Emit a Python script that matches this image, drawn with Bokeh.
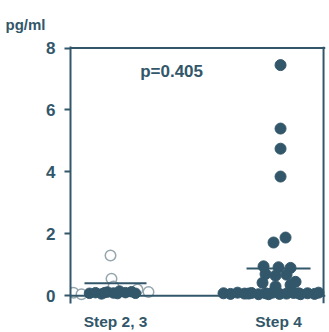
from bokeh.plotting import figure
from bokeh.models import Range1d, FixedTicker, Span, Label
from bokeh.embed import file_html
from bokeh.resources import INLINE

# ---- data ----
categories = ["Step 2, 3", "Step 4"]
cat_pos = [1, 2]
y_ticks = [0, 2, 4, 6, 8]
p_text = "p=0.405"
unit_text = "pg/ml"

# Step 2,3 filled points: values and horizontal offsets (in px from group centre)
g1_filled_val = [0.08, 0.1, 0.06, 0.12, 0.09, 0.15, 0.1, 0.13, 0.08, 0.1, 0.07]
g1_filled_off = [-26, -20, -14, -8, -2, 4, 10, 16, 20, -11, 2]
# Step 2,3 open points
g1_open_val = [1.3, 0.55, 0.1, 0.05, 0.12, 0.2, 0.3]
g1_open_off = [-5, -4, -42, -34, 33, 22, -2]
# Step 4 filled points
g2_val = [7.45, 5.4, 4.75, 3.85, 1.88, 1.72,
          0.95, 0.92, 0.9, 0.7, 0.65, 0.68, 0.42, 0.35, 0.3, 0.45,
          0.08, 0.06, 0.1, 0.07, 0.09, 0.05, 0.08, 0.1, 0.06, 0.07,
          0.09, 0.05, 0.08, 0.06, 0.1, 0.07, 0.05, 0.08]
g2_off = [2, 2, 2, 2, 7, -5,
          -15, 0, 12, -13, -3, 8, -16, 12, -3, 17,
          -55, -48, -41, -34, -27, -20, -13, -6, 1, 8,
          15, 22, 29, 36, 40, -30, -10, 20]
means = [0.4, 0.88]
mean_halfwidth_px = [31, 32]

color = "#33576a"
px = 1.0 / 163.0  # data units per pixel (x)
x_start, x_end = 0.724, 2.288
y_start, y_end = -0.25, 8.05

p = figure(width=329, height=332, output_backend="svg", toolbar_location=None,
           x_range=Range1d(x_start, x_end), y_range=Range1d(y_start, y_end),
           min_border_left=70, min_border_right=4, min_border_top=44,
           min_border_bottom=28)
p.background_fill_color = "white"
p.border_fill_color = "white"
p.outline_line_color = None
p.xgrid.visible = False
p.ygrid.visible = False

# marks
p.scatter([cat_pos[0] + o * px for o in g1_open_off], g1_open_val, size=10.5,
          fill_color="white", line_color="#95a6af", line_width=1.5)
p.scatter([cat_pos[0] + o * px for o in g1_filled_off], g1_filled_val, size=10.5,
          fill_color=color, line_color=color)
p.scatter([cat_pos[1] + o * px for o in g2_off], g2_val, size=11,
          fill_color=color, line_color=color)
p.segment(x0=[c - h * px for c, h in zip(cat_pos, mean_halfwidth_px)],
          x1=[c + h * px for c, h in zip(cat_pos, mean_halfwidth_px)],
          y0=means, y1=means, line_color=color, line_width=2)

# frame lines
p.add_layout(Span(location=0, dimension="width", line_color=color, line_width=2))
p.add_layout(Span(location=y_ticks[-1], dimension="width", line_color=color, line_width=2))
p.add_layout(Span(location=2.276, dimension="height", line_color=color, line_width=2))

p.add_layout(Label(x=1.344, y=7.23, text=p_text, text_align="center",
                   text_baseline="middle", text_font="Liberation Sans",
                   text_font_style="bold", text_font_size="17px",
                   text_color=color))

# y axis
p.yaxis.ticker = FixedTicker(ticks=y_ticks)
p.yaxis.minor_tick_line_color = None
p.yaxis.major_tick_out = 6
p.yaxis.major_tick_in = 0
p.yaxis.axis_line_color = color
p.yaxis.axis_line_width = 2
p.yaxis.major_tick_line_color = color
p.yaxis.major_tick_line_width = 2
p.yaxis.major_label_text_font = "Liberation Sans"
p.yaxis.major_label_text_font_style = "bold"
p.yaxis.major_label_text_font_size = "17px"
p.yaxis.major_label_text_color = color
p.yaxis.major_label_standoff = 9

# x axis
p.xaxis.ticker = FixedTicker(ticks=cat_pos)
p.xaxis.major_label_overrides = {c: t for c, t in zip(cat_pos, categories)}
p.xaxis.axis_line_color = None
p.xaxis.major_tick_line_color = None
p.xaxis.major_tick_out = 0
p.xaxis.major_tick_in = 0
p.xaxis.minor_tick_line_color = None
p.xaxis.major_label_text_font = "Liberation Sans"
p.xaxis.major_label_text_font_style = "bold"
p.xaxis.major_label_text_font_size = "15.5px"
p.xaxis.major_label_text_color = color
p.xaxis.major_label_standoff = 9

# unit label
p.title.text = unit_text
p.title.align = "left"
p.title.offset = -65
p.title.text_font = "Liberation Sans"
p.title.text_font_style = "bold"
p.title.text_font_size = "15px"
p.title.text_color = color
p.title.standoff = 27

open("out.html", "w").write(file_html(p, INLINE))
